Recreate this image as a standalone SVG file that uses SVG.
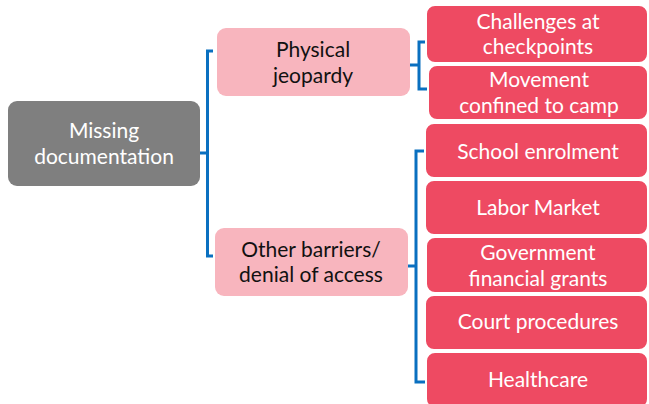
<svg xmlns="http://www.w3.org/2000/svg" width="649" height="404" viewBox="0 0 649 404">
  <style>
    text { font-family: Lato, "Noto Sans", "Liberation Sans", sans-serif; font-size: 21px; text-anchor: middle; }
    .root { fill: #7f7f7f; }
    .mid { fill: #f8b5be; }
    .leaf { fill: #ee4a62; stroke: #ffffff; stroke-width: 2; }
    .light { fill: #ffffff; }
    .dark { fill: #111111; }
    .bracket { fill: none; stroke: #0a70c0; stroke-width: 3; }
  </style>
  <rect width="649" height="404" fill="#ffffff"/>

  <g id="connectors">
    <!-- root to second level -->
    <path class="bracket" d="M200 153 H207.5 M213 51 H207.5 V256 H213"/>
    <!-- Physical jeopardy to its two outcomes -->
    <path class="bracket" d="M410 65 H419 M428 42 H419 V89 H428"/>
    <!-- Other barriers to its five outcomes -->
    <path class="bracket" d="M408 266 H416 M427 151 H416 V382 H427"/>
  </g>

  <g id="missing-documentation">
    <rect class="root" x="8" y="101" width="192" height="85" rx="9"/>
    <text class="light" x="104" y="138">Missing</text>
    <text class="light" x="104" y="164">documentation</text>
  </g>

  <g id="physical-jeopardy">
    <rect class="mid" x="217" y="28" width="193" height="68" rx="9"/>
    <text class="dark" x="313" y="57">Physical</text>
    <text class="dark" x="313" y="83">jeopardy</text>
  </g>

  <g id="other-barriers">
    <rect class="mid" x="215" y="228" width="193" height="68" rx="9"/>
    <text class="dark" x="311" y="257">Other barriers/</text>
    <text class="dark" x="311" y="282">denial of access</text>
  </g>

  <g id="challenges-checkpoints">
    <rect class="leaf" x="426" y="5" width="222" height="58" rx="9"/>
    <text class="light" x="538" y="29">Challenges at</text>
    <text class="light" x="538" y="54">checkpoints</text>
  </g>

  <g id="movement-confined">
    <rect class="leaf" x="428" y="65" width="220" height="55" rx="9"/>
    <text class="light" x="539" y="87">Movement</text>
    <text class="light" x="539" y="113">confined to camp</text>
  </g>

  <g id="school-enrolment">
    <rect class="leaf" x="425" y="123" width="223" height="55" rx="9"/>
    <text class="light" x="538" y="159">School enrolment</text>
  </g>

  <g id="labor-market">
    <rect class="leaf" x="425" y="180" width="223" height="55" rx="9"/>
    <text class="light" x="538" y="215">Labor Market</text>
  </g>

  <g id="government-grants">
    <rect class="leaf" x="426" y="237" width="222" height="56" rx="9"/>
    <text class="light" x="538" y="260">Government</text>
    <text class="light" x="538" y="286">financial grants</text>
  </g>

  <g id="court-procedures">
    <rect class="leaf" x="425" y="295" width="223" height="55" rx="9"/>
    <text class="light" x="538" y="329">Court procedures</text>
  </g>

  <g id="healthcare">
    <rect class="leaf" x="426" y="352" width="222" height="56" rx="9"/>
    <text class="light" x="538" y="387">Healthcare</text>
  </g>
</svg>
